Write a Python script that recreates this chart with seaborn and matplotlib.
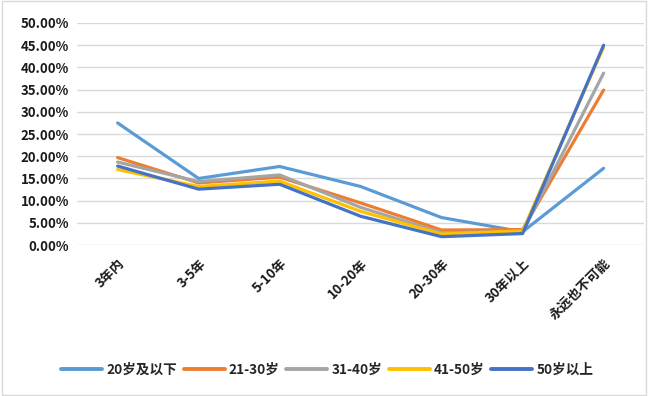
import matplotlib
matplotlib.use("Agg")
import matplotlib.pyplot as plt
import seaborn as sns
import pandas as pd
from matplotlib.ticker import FuncFormatter, MultipleLocator
from matplotlib.lines import Line2D

categories = ["3年内", "3-5年", "5-10年", "10-20年", "20-30年", "30年以上", "永远也不可能"]
series_names = ["20岁及以下", "21-30岁", "31-40岁", "41-50岁", "50岁以上"]
s_20 = [27.5, 15.0, 17.7, 13.2, 6.2, 3.0, 17.3]
s_21_30 = [19.7, 14.0, 15.3, 9.5, 3.4, 3.5, 34.9]
s_31_40 = [18.7, 14.3, 15.8, 8.5, 2.8, 3.0, 38.7]
s_41_50 = [17.0, 13.2, 14.4, 7.6, 2.5, 3.2, 44.6]
s_50 = [17.8, 12.6, 13.7, 6.5, 1.9, 2.6, 45.0]
colors = ["#5B9BD5", "#ED7D31", "#A5A5A5", "#FFC000", "#4472C4"]

sns.set_theme(style="white")
plt.rcParams['font.family'] = ['Noto Sans CJK SC', 'DejaVu Sans']

rows = []
for name, vals in zip(series_names, [s_20, s_21_30, s_31_40, s_41_50, s_50]):
    for i, (c, v) in enumerate(zip(categories, vals)):
        rows.append({"cat": c, "idx": i, "val": v, "group": name})
df = pd.DataFrame(rows)

fig = plt.figure(figsize=(6.48, 3.96), dpi=100)
ax = fig.add_axes([0.119, 0.381, 0.875, 0.561])

sns.lineplot(data=df, x="idx", y="val", hue="group", hue_order=series_names,
             palette=colors, linewidth=2.3, sort=False, ax=ax, legend=False)

ax.set_xlim(-0.5, len(categories) - 0.5)
ax.set_ylim(0, 50)
ax.yaxis.set_major_locator(MultipleLocator(5))
ax.yaxis.set_major_formatter(FuncFormatter(lambda v, p: f"{v:.2f}%"))
ax.set_xticks(range(len(categories)))
ax.set_xticklabels(categories, rotation=45, ha="right", rotation_mode="anchor",
                   fontsize=9.5, fontweight="bold", color="#1a1a1a")
for lbl in ax.get_yticklabels():
    lbl.set_fontsize(9.5)
    lbl.set_fontweight("bold")
    lbl.set_color("#1a1a1a")
ax.tick_params(axis="y", length=0, pad=6)
ax.tick_params(axis="x", length=0, pad=8)
ax.grid(axis="y", color="#D9D9D9", linewidth=1)
ax.set_axisbelow(True)
for s in ax.spines.values():
    s.set_visible(False)
ax.set_xlabel("")
ax.set_ylabel("")

handles = [Line2D([0], [0], color=c, lw=2.8) for c in colors]
fig.legend(handles, series_names, loc="center", bbox_to_anchor=(0.505, 0.066),
           ncol=5, frameon=False, handlelength=3.0, columnspacing=0.5,
           handletextpad=0.3, prop={"weight": "bold", "size": 9.8})

fig.patches.append(plt.Rectangle((0.003, 0.003), 0.994, 0.994, transform=fig.transFigure,
                                 fill=False, edgecolor="#D9D9D9", linewidth=1))
fig.savefig("out.png", dpi=100, facecolor="white")
